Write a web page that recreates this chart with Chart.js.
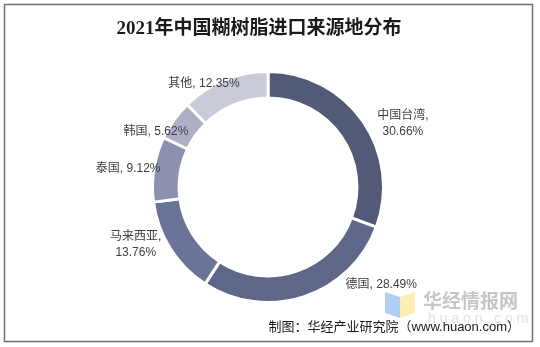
<!DOCTYPE html>
<html>
<head>
<meta charset="utf-8">
<script src="https://cdn.jsdelivr.net/npm/chart.js@4.4.0/dist/chart.umd.min.js"></script>
<style>
    html, body { margin: 0; padding: 0; background: #fff; }
    #wrap { width: 540px; height: 347px; }
</style>
</head>
<body>
<div id="wrap"><canvas id="importChart" width="540" height="347"></canvas></div>
<script>
// Import sources of paste PVC resin, 2021 (share %)
const regions = ['中国台湾', '德国', '马来西亚', '泰国', '韩国', '其他'];
const shares = [30.66, 28.49, 13.76, 9.12, 5.62, 12.35];
const sliceColors = ['#525a78', '#5e6789', '#6a7499', '#8b91ae', '#adb0c5', '#c9cbd8'];

const chartTitle = '2021年中国糊树脂进口来源地分布';
const sourceNote = '制图：华经产业研究院（www.huaon.com）';

const LABEL_FONT = '12px "Liberation Sans", "Noto Sans CJK SC", sans-serif';

/**
 * Background, frame and title
 */
const frame = {
    id: 'frame',
    beforeDraw(chart) {
        const ctx = chart.ctx;
        ctx.save();
        ctx.fillStyle = '#ffffff';
        ctx.fillRect(0, 0, chart.width, chart.height);
        ctx.strokeStyle = '#707070';
        ctx.lineWidth = 1.5;
        ctx.strokeRect(4.5, 4.5, 528, 337);

        ctx.fillStyle = '#1a1a1a';
        ctx.font = 'bold 19px "Liberation Serif", "Noto Sans CJK SC", serif';
        ctx.textAlign = 'center';
        ctx.textBaseline = 'middle';
        ctx.fillText(chartTitle, 259, 29);
        ctx.restore();
    }
};

/**
 * Slice labels: "name, value%" placed outside each arc
 */
const sliceLabels = {
    id: 'sliceLabels',
    afterDatasetsDraw(chart, args, opts) {
        const ctx = chart.ctx;
        const meta = chart.getDatasetMeta(0);
        ctx.save();
        ctx.font = LABEL_FONT;
        ctx.fillStyle = '#404040';
        ctx.textAlign = 'center';
        ctx.textBaseline = 'middle';
        meta.data.forEach((arc, i) => {
            const p = arc.getProps(['x', 'y', 'startAngle', 'endAngle', 'outerRadius'], true);
            const mid = (p.startAngle + p.endAngle) / 2;
            const r = p.outerRadius + opts.gap;
            const nudge = opts.nudge[i] || [0, 0];
            const x = p.x + Math.cos(mid) * r + nudge[0];
            const y = p.y + Math.sin(mid) * r + nudge[1];
            const name = chart.data.labels[i];
            const value = chart.data.datasets[0].data[i].toFixed(2) + '%';
            if (name.length >= 4) {
                ctx.fillText(name + ',', x, y - 8);
                ctx.fillText(value, x, y + 8);
            } else {
                ctx.fillText(name + ', ' + value, x, y);
            }
        });
        ctx.restore();
    }
};

/**
 * Watermark logo and source line
 */
const footer = {
    id: 'footer',
    afterDraw(chart) {
        const ctx = chart.ctx;
        ctx.save();

        // book-shaped logo
        ctx.globalAlpha = 0.9;
        ctx.fillStyle = '#a9c9f2';
        ctx.beginPath();
        ctx.moveTo(385, 292); ctx.lineTo(400, 297); ctx.lineTo(400, 318); ctx.lineTo(385, 313);
        ctx.closePath(); ctx.fill();
        ctx.fillStyle = '#fcebaa';
        ctx.beginPath();
        ctx.moveTo(400, 297); ctx.lineTo(415, 292); ctx.lineTo(415, 313); ctx.lineTo(400, 318);
        ctx.closePath(); ctx.fill();
        ctx.globalAlpha = 1;

        ctx.textBaseline = 'middle';
        ctx.textAlign = 'left';
        ctx.fillStyle = '#c6c6c6';
        ctx.font = 'bold 19px "Noto Sans CJK SC", sans-serif';
        ctx.fillText('华经情报网', 423, 301);
        ctx.fillStyle = '#e2e2e2';
        ctx.font = '14px "Liberation Sans", sans-serif';
        ctx.fillText('h u a o n . c o m', 428, 319);

        ctx.fillStyle = '#1a1a1a';
        ctx.textAlign = 'right';
        ctx.font = '13px "Liberation Sans", "Noto Sans CJK SC", sans-serif';
        ctx.fillText(sourceNote, 520, 327);
        ctx.restore();
    }
};

new Chart(document.getElementById('importChart'), {
    type: 'doughnut',
    data: {
        labels: regions,
        datasets: [{
            data: shares,
            backgroundColor: sliceColors,
            borderColor: '#ffffff',
            borderWidth: 3
        }]
    },
    options: {
        responsive: false,
        animation: false,
        devicePixelRatio: 1,
        cutout: '77%',
        layout: {
            padding: { left: 151, right: 155, top: 70, bottom: 43 }
        },
        plugins: {
            legend: { display: false },
            tooltip: { enabled: false },
            sliceLabels: {
                gap: 22,
                nudge: [[22, 15], [70, -33], [-16, -16], [-4, 3], [0, 24], [-12, 24]]
            }
        }
    },
    plugins: [frame, sliceLabels, footer]
});
</script>
</body>
</html>
